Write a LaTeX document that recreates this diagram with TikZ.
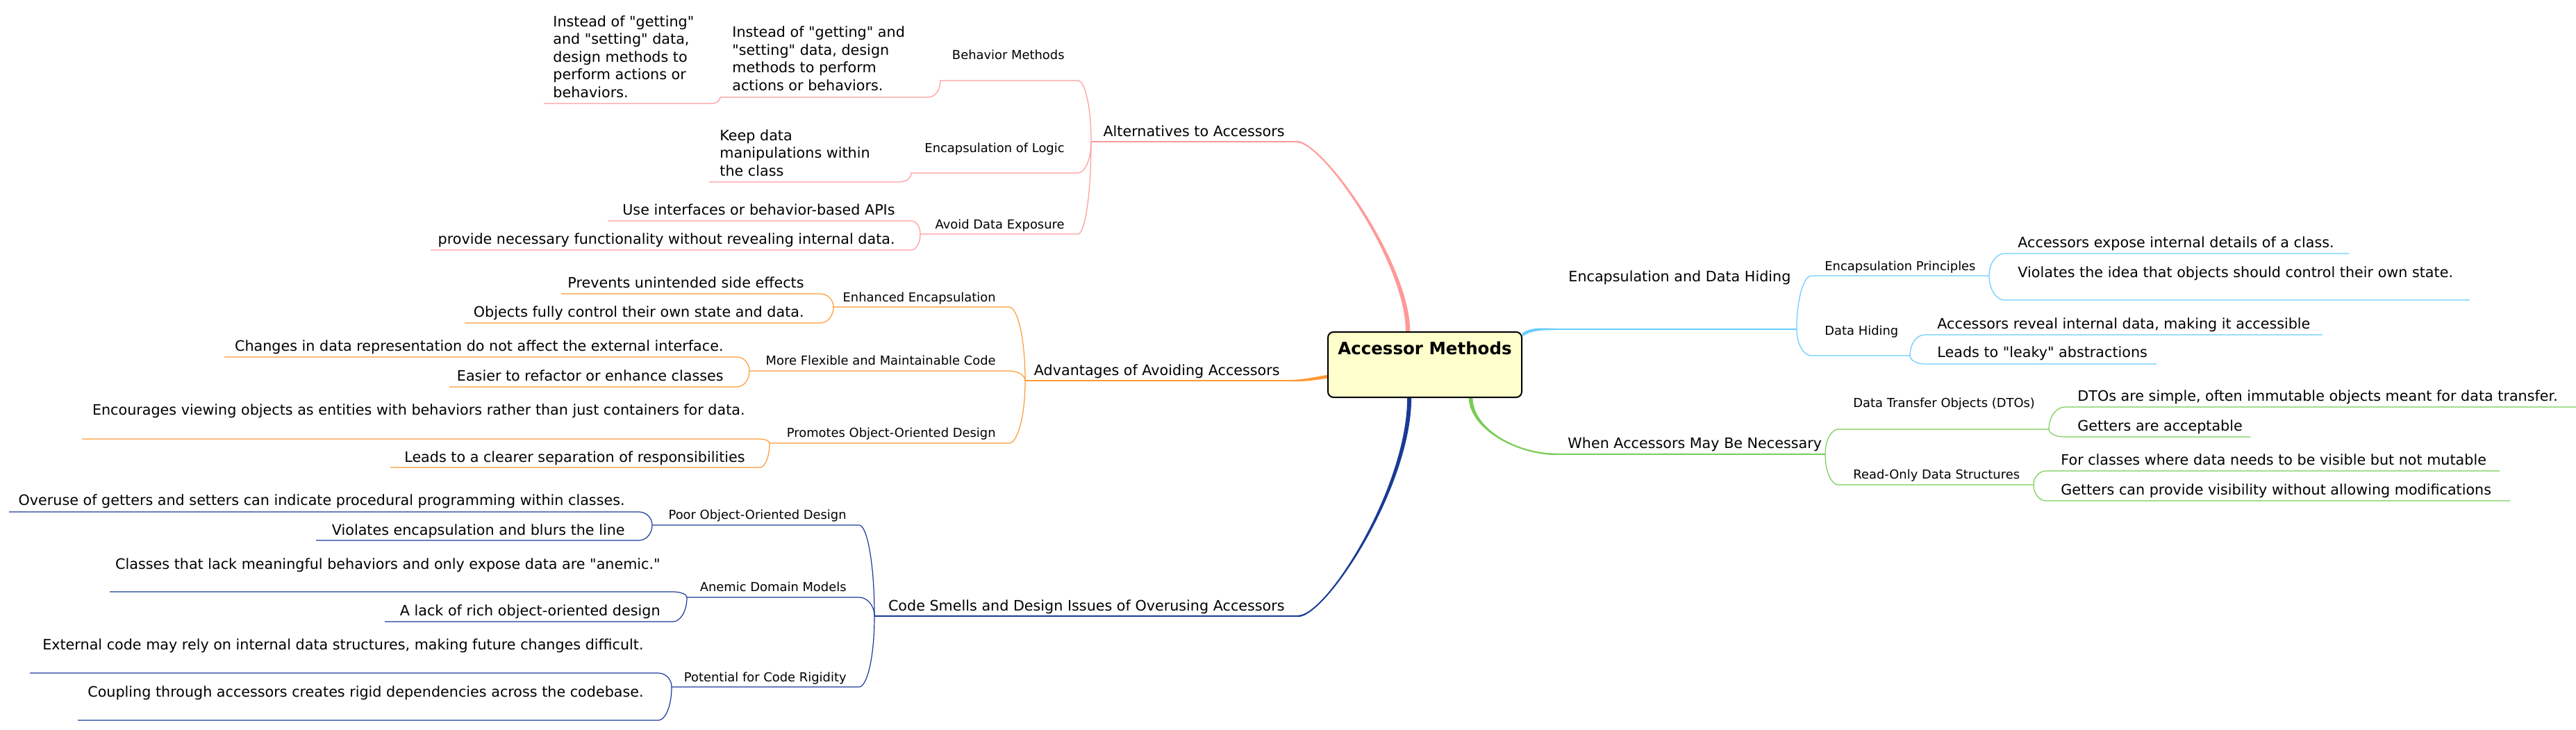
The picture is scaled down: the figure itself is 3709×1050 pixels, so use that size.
\documentclass[tikz,border=0pt]{standalone}
\usepackage{fontspec}
\setmainfont{DejaVu Sans}[Ligatures=TeXOff]
\usetikzlibrary{calc,backgrounds}
\definecolor{altpink}{RGB}{255,153,153}
\definecolor{advorange}{RGB}{255,153,51}
\definecolor{encblue}{RGB}{102,204,255}
\definecolor{whengreen}{RGB}{119,204,85}
\definecolor{smellblue}{RGB}{26,58,150}
\definecolor{rootyellow}{RGB}{255,255,204}
\begin{document}
\begin{tikzpicture}[x=0.5pt,y=-0.5pt,
  every node/.style={inner sep=0pt},
  big/.style={font=\fontsize{10.35}{12.75}\selectfont},
  small/.style={font=\fontsize{8.95}{11}\selectfont},
  lft/.style={anchor=base east},
  rgt/.style={anchor=base west},
  fork/.style={to path={let \p1=(\tikztostart), \p2=(\tikztotarget) in
    .. controls (\x1,{0.4*\y1+0.6*\y2}) and ({0.5*\x1+0.5*\x2},\y2) .. (\tikztotarget)}},
  twig/.style={line width=0.6pt},
  bough/.style={line width=1.1pt}]
\useasboundingbox (0,0) rectangle (3709,1050);

\node[draw, line width=1pt, rounded corners=4pt, fill=rootyellow, anchor=base,
  minimum width=139.5pt, text height=16pt, text depth=31pt,
  font=\fontsize{12.25}{14}\selectfont\bfseries] (root) at (2051.5,510) {Accessor Methods};

\node[big, rgt] (ed) at (2258,405) {Encapsulation and Data Hiding};
\coordinate (ed-l) at (2240,474); \coordinate (ed-r) at (2587,474);
\node[small, rgt] (ep) at (2627,389) {Encapsulation Principles};
\coordinate (ep-l) at (2608,397); \coordinate (ep-r) at (2864,397);
\node[big, rgt] (ep1) at (2905,356) {Accessors expose internal details of a class.};
\coordinate (ep1-l) at (2886,365); \coordinate (ep1-r) at (3382,365);
\node[big, rgt] (ep2) at (2905,399) {Violates the idea that objects should control their own state.};
\coordinate (ep2-l) at (2886,432); \coordinate (ep2-r) at (3556,432);
\node[small, rgt] (dh) at (2627,482) {Data Hiding};
\coordinate (dh-l) at (2608,512); \coordinate (dh-r) at (2750,512);
\node[big, rgt] (dh1) at (2789,473) {Accessors reveal internal data, making it accessible};
\coordinate (dh1-l) at (2771,482); \coordinate (dh1-r) at (3344,482);
\node[big, rgt] (dh2) at (2789,514) {Leads to "leaky" abstractions};
\coordinate (dh2-l) at (2771,524); \coordinate (dh2-r) at (3105,524);

\node[big, rgt] (wa) at (2257,645) {When Accessors May Be Necessary};
\coordinate (wa-l) at (2242,654); \coordinate (wa-r) at (2628,654);
\node[small, rgt] (dto) at (2668,586) {Data Transfer Objects (DTOs)};
\coordinate (dto-l) at (2647,618); \coordinate (dto-r) at (2950,618);
\node[big, rgt] (dto1) at (2991,577) {DTOs are simple, often immutable objects meant for data transfer.};
\coordinate (dto1-l) at (2973,586); \coordinate (dto1-r) at (3709,586);
\node[big, rgt] (dto2) at (2991,620) {Getters are acceptable};
\coordinate (dto2-l) at (2973,629); \coordinate (dto2-r) at (3240,629);
\node[small, rgt] (ro) at (2668,689) {Read-Only Data Structures};
\coordinate (ro-l) at (2647,698); \coordinate (ro-r) at (2928,698);
\node[big, rgt] (ro1) at (2967,669) {For classes where data needs to be visible but not mutable};
\coordinate (ro1-l) at (2946,678); \coordinate (ro1-r) at (3599,678);
\node[big, rgt] (ro2) at (2967,712) {Getters can provide visibility without allowing modifications};
\coordinate (ro2-l) at (2946,721); \coordinate (ro2-r) at (3614,721);

\node[big, lft] (alt) at (1850,196) {Alternatives to Accessors};
\coordinate (alt-l) at (1571,204); \coordinate (alt-r) at (1867,204);
\node[small, lft] (bm) at (1533,85) {Behavior Methods};
\coordinate (bm-l) at (1354,116); \coordinate (bm-r) at (1552,116);
\node[big, rgt, align=left] (bm1) at (1054,130) {Instead of "getting" and\\"setting" data, design\\methods to perform\\actions or behaviors.};
\coordinate (bm1-l) at (1037,140); \coordinate (bm1-r) at (1337,140);
\node[big, rgt, align=left] (bm2) at (796,140) {Instead of "getting"\\and "setting" data,\\design methods to\\perform actions or\\behaviors.};
\coordinate (bm2-l) at (783,149); \coordinate (bm2-r) at (1025,149);
\node[small, lft] (el) at (1533,219) {Encapsulation of Logic};
\coordinate (el-l) at (1312,249); \coordinate (el-r) at (1552,249);
\node[big, rgt, align=left] (el1) at (1036,253) {Keep data\\manipulations within\\the class};
\coordinate (el1-l) at (1021,262); \coordinate (el1-r) at (1296,262);
\node[small, lft] (ad) at (1533,329) {Avoid Data Exposure};
\coordinate (ad-l) at (1325,337); \coordinate (ad-r) at (1552,337);
\node[big, lft] (ad1) at (1289,309) {Use interfaces or behavior-based APIs};
\coordinate (ad1-l) at (875,318); \coordinate (ad1-r) at (1312,318);
\node[big, lft] (ad2) at (1289,351) {provide necessary functionality without revealing internal data.};
\coordinate (ad2-l) at (620,360); \coordinate (ad2-r) at (1312,360);

\node[big, lft] (adv) at (1843,540) {Advantages of Avoiding Accessors};
\coordinate (adv-l) at (1476,548); \coordinate (adv-r) at (1860,548);
\node[small, lft] (ee) at (1434,434) {Enhanced Encapsulation};
\coordinate (ee-l) at (1200,442); \coordinate (ee-r) at (1453,442);
\node[big, lft] (ee1) at (1158,414) {Prevents unintended side effects};
\coordinate (ee1-l) at (808,423); \coordinate (ee1-r) at (1181,423);
\node[big, lft] (ee2) at (1158,456) {Objects fully control their own state and data.};
\coordinate (ee2-l) at (669,465); \coordinate (ee2-r) at (1181,465);
\node[small, lft] (mf) at (1434,525) {More Flexible and Maintainable Code};
\coordinate (mf-l) at (1079,534); \coordinate (mf-r) at (1453,534);
\node[big, lft] (mf1) at (1042,505) {Changes in data representation do not affect the external interface.};
\coordinate (mf1-l) at (323,514); \coordinate (mf1-r) at (1061,514);
\node[big, lft] (mf2) at (1042,548) {Easier to refactor or enhance classes};
\coordinate (mf2-l) at (647,557); \coordinate (mf2-r) at (1061,557);
\node[small, lft] (po) at (1434,629) {Promotes Object-Oriented Design};
\coordinate (po-l) at (1108,638); \coordinate (po-r) at (1453,638);
\node[big, lft] (po1) at (1073,597) {Encourages viewing objects as entities with behaviors rather than just containers for data.};
\coordinate (po1-l) at (118,632); \coordinate (po1-r) at (1094,632);
\node[big, lft] (po2) at (1073,665) {Leads to a clearer separation of responsibilities};
\coordinate (po2-l) at (562,673); \coordinate (po2-r) at (1094,673);

\node[big, lft] (cs) at (1850,879) {Code Smells and Design Issues of Overusing Accessors};
\coordinate (cs-l) at (1259,887); \coordinate (cs-r) at (1869,887);
\node[small, lft] (pd) at (1219,747) {Poor Object-Oriented Design};
\coordinate (pd-l) at (939,756); \coordinate (pd-r) at (1237,756);
\node[big, lft] (pd1) at (900,727) {Overuse of getters and setters can indicate procedural programming within classes.};
\coordinate (pd1-l) at (13,737); \coordinate (pd1-r) at (920,737);
\node[big, lft] (pd2) at (900,770) {Violates encapsulation and blurs the line};
\coordinate (pd2-l) at (455,778); \coordinate (pd2-r) at (920,778);
\node[small, lft] (am) at (1219,851) {Anemic Domain Models};
\coordinate (am-l) at (989,860); \coordinate (am-r) at (1237,860);
\node[big, lft] (am1) at (951,819) {Classes that lack meaningful behaviors and only expose data are "anemic."};
\coordinate (am1-l) at (158,852); \coordinate (am1-r) at (969,852);
\node[big, lft] (am2) at (951,886) {A lack of rich object-oriented design};
\coordinate (am2-l) at (554,895); \coordinate (am2-r) at (969,895);
\node[small, lft] (cr) at (1219,981) {Potential for Code Rigidity};
\coordinate (cr-l) at (967,989); \coordinate (cr-r) at (1237,989);
\node[big, lft] (cr1) at (927,935) {External code may rely on internal data structures, making future changes difficult.};
\coordinate (cr1-l) at (43,969); \coordinate (cr1-r) at (948,969);
\node[big, lft] (cr2) at (927,1003) {Coupling through accessors creates rigid dependencies across the codebase.};
\coordinate (cr2-l) at (112,1037); \coordinate (cr2-r) at (948,1037);

\begin{scope}[on background layer]
\fill[altpink] ([xshift=-1.6pt]root.117) .. controls +(0,-98) and +(38,0) .. ([yshift=-0.6pt]alt-r)
  -- ([yshift=0.6pt]alt-r) .. controls +(38,0) and +(0,-98) .. ([xshift=1.6pt]root.117) -- cycle;
\fill[smellblue] ([xshift=-1.5pt]root.245) .. controls +(0,128) and +(41,0) .. ([yshift=0.6pt]cs-r)
  -- ([yshift=-0.6pt]cs-r) .. controls +(41,0) and +(0,128) .. ([xshift=1.5pt]root.245) -- cycle;
\fill[whengreen] ([xshift=-1.4pt]root.324) .. controls +(1,45) and +(-58,0) .. ([yshift=-0.6pt]wa-l)
  -- ([yshift=0.6pt]wa-l) .. controls +(-58,0) and +(1,45) .. ([xshift=1.4pt]root.324) -- cycle;
\fill[encblue] ([yshift=1.2pt]root.17) .. controls +(12,-9) and +(-20,0) .. ([yshift=0.6pt]ed-l)
  -- ([yshift=-0.6pt]ed-l) .. controls +(-20,0) and +(12,-9) .. ([yshift=-1.2pt]root.17) -- cycle;
\fill[advorange] ([yshift=1.2pt]root.187) .. controls +(-25,4) and +(15,0) .. ([yshift=0.6pt]adv-r)
  -- ([yshift=-0.6pt]adv-r) .. controls +(15,0) and +(-25,4) .. ([yshift=-1.2pt]root.187) -- cycle;
\end{scope}

\draw[encblue, bough] (ed-l) -- (ed-r);
\draw[encblue, twig] (ed-r) to[fork] (ep-l) -- (ep-r);
\draw[encblue, twig] (ed-r) to[fork] (dh-l) -- (dh-r);
\draw[encblue, twig] (ep-r) to[fork] (ep1-l) -- (ep1-r);
\draw[encblue, twig] (ep-r) to[fork] (ep2-l) -- (ep2-r);
\draw[encblue, twig] (dh-r) to[fork] (dh1-l) -- (dh1-r);
\draw[encblue, twig] (dh-r) to[fork] (dh2-l) -- (dh2-r);

\draw[whengreen, bough] (wa-l) -- (wa-r);
\draw[whengreen, twig] (wa-r) to[fork] (dto-l) -- (dto-r);
\draw[whengreen, twig] (wa-r) to[fork] (ro-l) -- (ro-r);
\draw[whengreen, twig] (dto-r) to[fork] (dto1-l) -- (dto1-r);
\draw[whengreen, twig] (dto-r) to[fork] (dto2-l) -- (dto2-r);
\draw[whengreen, twig] (ro-r) to[fork] (ro1-l) -- (ro1-r);
\draw[whengreen, twig] (ro-r) to[fork] (ro2-l) -- (ro2-r);

\draw[altpink, bough] (alt-r) -- (alt-l);
\draw[altpink, twig] (alt-l) to[fork] (bm-r) -- (bm-l) to[fork] (bm1-r) -- (bm1-l) to[fork] (bm2-r) -- (bm2-l);
\draw[altpink, twig] (alt-l) to[fork] (el-r) -- (el-l) to[fork] (el1-r) -- (el1-l);
\draw[altpink, twig] (alt-l) to[fork] (ad-r) -- (ad-l);
\draw[altpink, twig] (ad-l) to[fork] (ad1-r) -- (ad1-l);
\draw[altpink, twig] (ad-l) to[fork] (ad2-r) -- (ad2-l);

\draw[advorange, bough] (adv-r) -- (adv-l);
\draw[advorange, twig] (adv-l) to[fork] (ee-r) -- (ee-l);
\draw[advorange, twig] (adv-l) to[fork] (mf-r) -- (mf-l);
\draw[advorange, twig] (adv-l) to[fork] (po-r) -- (po-l);
\draw[advorange, twig] (ee-l) to[fork] (ee1-r) -- (ee1-l);
\draw[advorange, twig] (ee-l) to[fork] (ee2-r) -- (ee2-l);
\draw[advorange, twig] (mf-l) to[fork] (mf1-r) -- (mf1-l);
\draw[advorange, twig] (mf-l) to[fork] (mf2-r) -- (mf2-l);
\draw[advorange, twig] (po-l) to[fork] (po1-r) -- (po1-l);
\draw[advorange, twig] (po-l) to[fork] (po2-r) -- (po2-l);

\draw[smellblue, bough] (cs-r) -- (cs-l);
\draw[smellblue, twig] (cs-l) to[fork] (pd-r) -- (pd-l);
\draw[smellblue, twig] (cs-l) to[fork] (am-r) -- (am-l);
\draw[smellblue, twig] (cs-l) to[fork] (cr-r) -- (cr-l);
\draw[smellblue, twig] (pd-l) to[fork] (pd1-r) -- (pd1-l);
\draw[smellblue, twig] (pd-l) to[fork] (pd2-r) -- (pd2-l);
\draw[smellblue, twig] (am-l) to[fork] (am1-r) -- (am1-l);
\draw[smellblue, twig] (am-l) to[fork] (am2-r) -- (am2-l);
\draw[smellblue, twig] (cr-l) to[fork] (cr1-r) -- (cr1-l);
\draw[smellblue, twig] (cr-l) to[fork] (cr2-r) -- (cr2-l);
\end{tikzpicture}
\end{document}
